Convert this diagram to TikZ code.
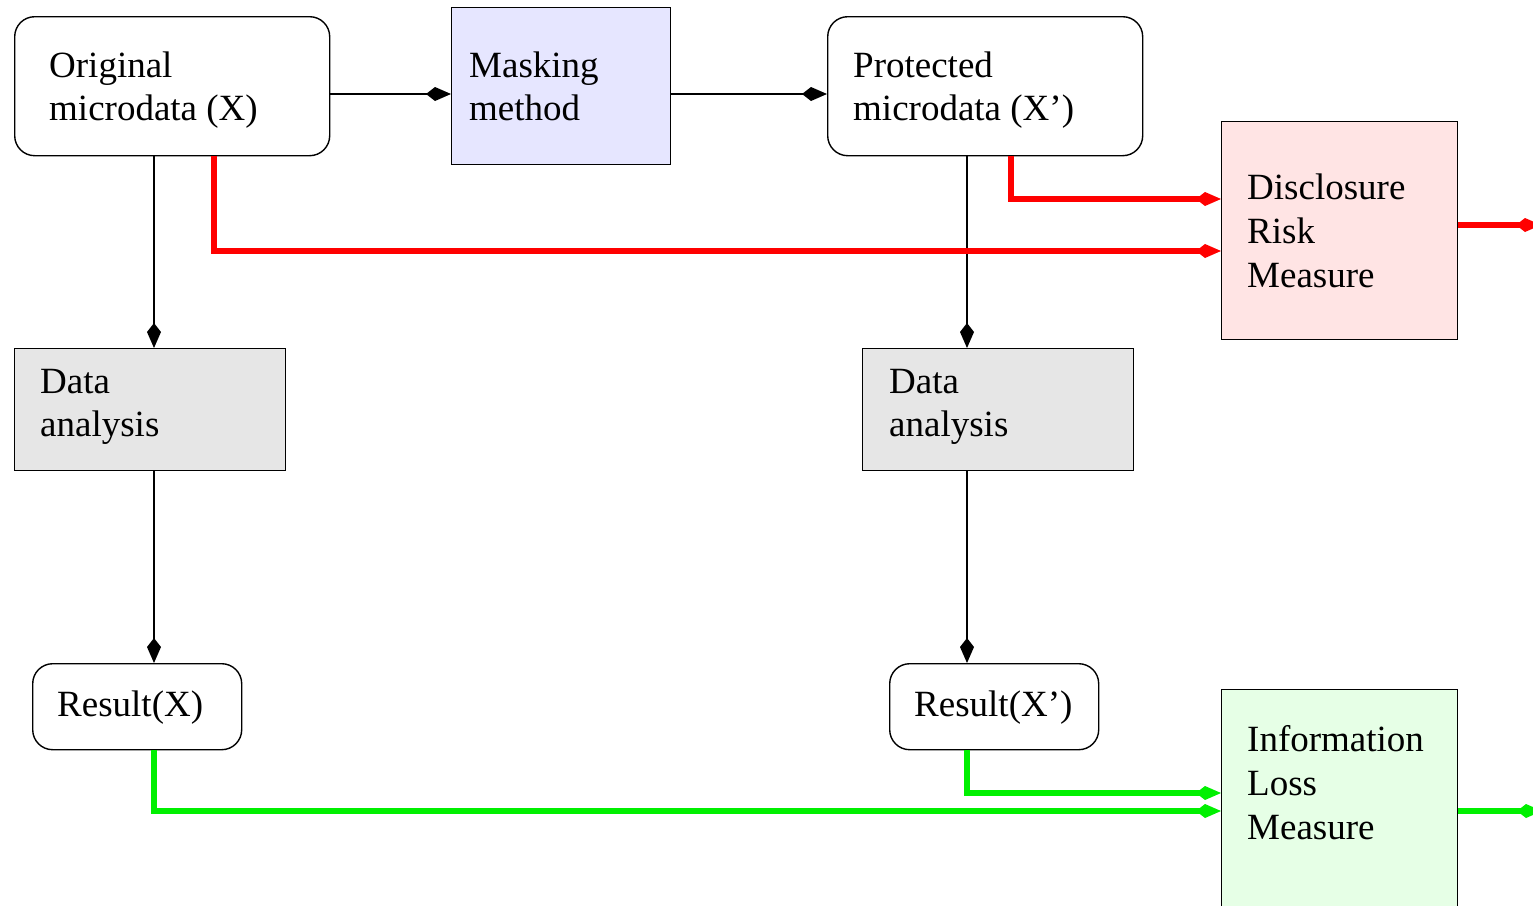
\documentclass[tikz,border=0pt]{standalone}
\usepackage{fontspec}
\setmainfont{Liberation Serif}
\usetikzlibrary{arrows.meta}

\definecolor{maskfill}{HTML}{E6E6FF}
\definecolor{riskfill}{HTML}{FFE4E4}
\definecolor{anafill}{HTML}{E6E6E6}
\definecolor{lossfill}{HTML}{E6FFE6}
\definecolor{riskred}{HTML}{FF0000}
\definecolor{lossgreen}{HTML}{00F000}

\tikzset{
  box/.style={draw=black, line width=1.4pt, anchor=north west, inner sep=0pt},
  roundbox/.style={box, rounded corners=20pt, fill=white},
  lbl/.style={anchor=base west, inner sep=0pt, align=left,
              font=\fontsize{37}{43.5}\selectfont},
  kitetip/.tip={Kite[length=25pt, width=14pt, inset=9pt]},
  conn/.style={draw=black, line width=2.8pt, -kitetip},
  riskline/.style={draw=riskred, line width=5.2pt, miter limit=4, -kitetip},
  lossline/.style={draw=lossgreen, line width=5.2pt, miter limit=4, -kitetip},
}

\begin{document}
\begin{tikzpicture}[x=1pt, y=-1pt]
  \clip (0,0) rectangle (1533,905);
  \fill[white] (0,0) rectangle (1533,905);

  % boxes
  \node[roundbox, minimum width=315pt, minimum height=139pt] (orig) at (14,16) {};
  \node[box, fill=maskfill, minimum width=219pt, minimum height=157pt] (mask) at (451,7) {};
  \node[roundbox, minimum width=315pt, minimum height=139pt] (prot) at (827,16) {};
  \node[box, fill=riskfill, minimum width=236pt, minimum height=218pt] (risk) at (1221,121) {};
  \node[box, fill=anafill, minimum width=271pt, minimum height=122pt] (anaA) at (14,348) {};
  \node[box, fill=anafill, minimum width=271pt, minimum height=122pt] (anaB) at (862,348) {};
  \node[roundbox, minimum width=209pt, minimum height=86pt] (resA) at (32,663) {};
  \node[roundbox, minimum width=209pt, minimum height=86pt] (resB) at (889,663) {};
  \node[box, fill=lossfill, minimum width=236pt, minimum height=260pt] (loss) at (1221,689) {};

  % labels
  \node[lbl] (origT1) at (49,77) {Original};
  \node[lbl] (origT2) at (49,120) {microdata (X)};
  \node[lbl] (maskT1) at (469,77) {Masking};
  \node[lbl] (maskT2) at (469,120) {method};
  \node[lbl] (protT1) at (853,77) {Protected};
  \node[lbl] (protT2) at (853,120) {microdata (X’)};
  \node[lbl] (riskT1) at (1247,199) {Disclosure};
  \node[lbl] (riskT2) at (1247,243) {Risk};
  \node[lbl] (riskT3) at (1247,287) {Measure};
  \node[lbl] (anaAT1) at (40,393) {Data};
  \node[lbl] (anaAT2) at (40,436) {analysis};
  \node[lbl] (anaBT1) at (889,393) {Data};
  \node[lbl] (anaBT2) at (889,436) {analysis};
  \node[lbl] (resAT) at (57,716) {Result(X)};
  \node[lbl] (resBT) at (914,716) {Result(X’)};
  \node[lbl] (lossT1) at (1247,751) {Information};
  \node[lbl] (lossT2) at (1247,795) {Loss};
  \node[lbl] (lossT3) at (1247,839) {Measure};

  % routing guides
  \coordinate (topRow) at (0,94);
  \coordinate (colL) at (154,0);
  \coordinate (colR) at (967,0);
  \coordinate (redColA) at (214,0);
  \coordinate (redRowA) at (0,251);
  \coordinate (redColB) at (1011,0);
  \coordinate (redRowB) at (0,199);
  \coordinate (riskOut) at (1541,225);
  \coordinate (greenRowA) at (0,811);
  \coordinate (greenRowB) at (0,793);
  \coordinate (lossOut) at (1542,811);

  % black flow
  \draw[conn] (orig.east |- topRow) -- (mask.west |- topRow);
  \draw[conn] (mask.east |- topRow) -- (prot.west |- topRow);
  \draw[conn] (orig.south -| colL) -- (anaA.north -| colL);
  \draw[conn] (anaA.south -| colL) -- (resA.north -| colL);
  \draw[conn] (prot.south -| colR) -- (anaB.north -| colR);
  \draw[conn] (anaB.south -| colR) -- (resB.north -| colR);

  % disclosure risk
  \draw[riskline] (orig.south -| redColA) |- (risk.west |- redRowA);
  \draw[riskline] (prot.south -| redColB) |- (risk.west |- redRowB);
  \draw[riskline] (risk.east |- riskOut) -- (riskOut);

  % information loss
  \draw[lossline] (resA.south -| colL) |- (loss.west |- greenRowA);
  \draw[lossline] (resB.south -| colR) |- (loss.west |- greenRowB);
  \draw[lossline] (loss.east |- lossOut) -- (lossOut);
\end{tikzpicture}
\end{document}
